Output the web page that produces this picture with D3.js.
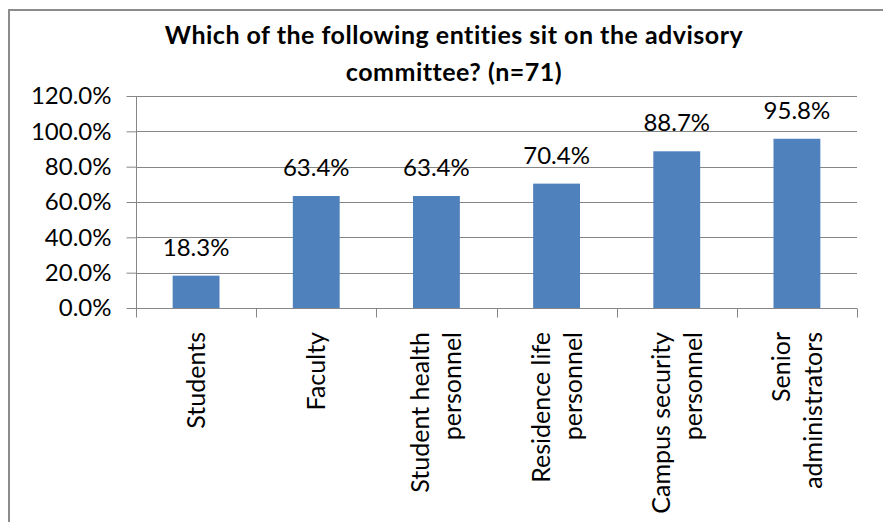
<!DOCTYPE html>
<html>
<head>
<meta charset="utf-8">
<script src="https://cdn.jsdelivr.net/npm/d3@7"></script>
<style>
  html, body { margin: 0; padding: 0; background: #fff; }
  svg { display: block; }
  text { font-family: Lato, "Open Sans", sans-serif; fill: #000; font-variant-ligatures: none; }
</style>
</head>
<body>
<svg id="chart" width="883" height="523"></svg>
<script>
// Survey results: share of respondents naming each entity (n=71)
const categories = [
  ["Students"],
  ["Faculty"],
  ["Student health", "personnel"],
  ["Residence life", "personnel"],
  ["Campus security", "personnel"],
  ["Senior", "administrators"]
];
const values = [18.3, 63.4, 63.4, 70.4, 88.7, 95.8];
const yTicks = [0, 20, 40, 60, 80, 100, 120];
const titleLines = ["Which of the following entities sit on the advisory", "committee? (n=71)"];

const svg = d3.select("#chart");
const W = 883, H = 523;
const plot = { left: 136, right: 857, top: 96, bottom: 308 };
const gridColor = "#868686";
const barColor = "#4F81BD";

// frame: top and left edges
svg.append("line").attr("x1", 8).attr("x2", W).attr("y1", 10).attr("y2", 10)
  .attr("stroke", "#8c8c8c").attr("stroke-width", 2);
svg.append("line").attr("x1", 9).attr("x2", 9).attr("y1", 9).attr("y2", 522)
  .attr("stroke", "#8c8c8c").attr("stroke-width", 2);

// title
svg.append("text")
  .attr("text-anchor", "middle")
  .attr("font-size", 25).attr("font-weight", "bold")
  .attr("letter-spacing", 0.5)
  .selectAll("tspan").data(titleLines).join("tspan")
  .attr("x", 454).attr("y", (d, i) => 44 + i * 37)
  .text(d => d);

const x = d3.scaleBand().domain(d3.range(categories.length))
  .range([plot.left, plot.right]).paddingInner(0.61).paddingOuter(0.305);
const xOuter = d3.scaleBand().domain(d3.range(categories.length))
  .range([plot.left, plot.right]);
const y = d3.scaleLinear().domain([0, 120]).range([plot.bottom, plot.top]);

// horizontal gridlines
svg.append("g").selectAll("line").data(yTicks).join("line")
  .attr("x1", plot.left).attr("x2", plot.right)
  .attr("y1", d => Math.round(y(d)) + 0.5).attr("y2", d => Math.round(y(d)) + 0.5)
  .attr("stroke", gridColor).attr("stroke-width", 1);

// y axis
const yAxis = d3.axisLeft(y).tickValues(yTicks)
  .tickFormat(d => d3.format(".1f")(d) + "%").tickSize(10).tickPadding(15);
const gy = svg.append("g").attr("transform", `translate(${plot.left + 0.5},0)`).call(yAxis);
gy.select(".domain").attr("stroke", gridColor).attr("d", `M0,${plot.top}V${plot.bottom}`);
gy.selectAll(".tick line").attr("stroke", gridColor);
gy.selectAll(".tick text").attr("font-size", 24).attr("font-family", "Lato").attr("fill", "#000");

// bars
svg.append("g").selectAll("rect").data(values).join("rect")
  .attr("x", (d, i) => x(i)).attr("width", x.bandwidth())
  .attr("y", d => y(d)).attr("height", d => y(0) - y(d))
  .attr("fill", barColor);

// x axis with category boundary ticks
const gx = svg.append("g").attr("transform", `translate(0,${Math.round(plot.bottom) + 0.5})`);
gx.append("line").attr("x1", plot.left).attr("x2", plot.right)
  .attr("stroke", gridColor);
gx.selectAll("line.tick").data(d3.range(categories.length + 1)).join("line")
  .attr("class", "tick")
  .attr("x1", i => Math.round(plot.left + i * xOuter.step()) + 0.5)
  .attr("x2", i => Math.round(plot.left + i * xOuter.step()) + 0.5)
  .attr("y1", 0).attr("y2", 9).attr("stroke", gridColor);

// rotated category labels
const lineGap = 32;
svg.append("g").selectAll("text").data(categories).join("text")
  .attr("font-size", 25)
  .attr("text-anchor", "end")
  .attr("transform", (d, i) => `translate(${xOuter(i) + xOuter.bandwidth() / 2},332) rotate(-90)`)
  .each(function (lines) {
    const n = lines.length;
    d3.select(this).selectAll("tspan").data(lines).join("tspan")
      .attr("x", 0)
      .attr("y", (d, k) => (k - (n - 1) / 2) * lineGap + 9)
      .text(d => d);
  });

// value labels
svg.append("g").selectAll("text").data(values).join("text")
  .attr("font-size", 24).attr("text-anchor", "middle")
  .attr("x", (d, i) => x(i) + x.bandwidth() / 2)
  .attr("y", d => y(d) - 20)
  .text(d => d3.format(".1f")(d) + "%");
</script>
</body>
</html>
